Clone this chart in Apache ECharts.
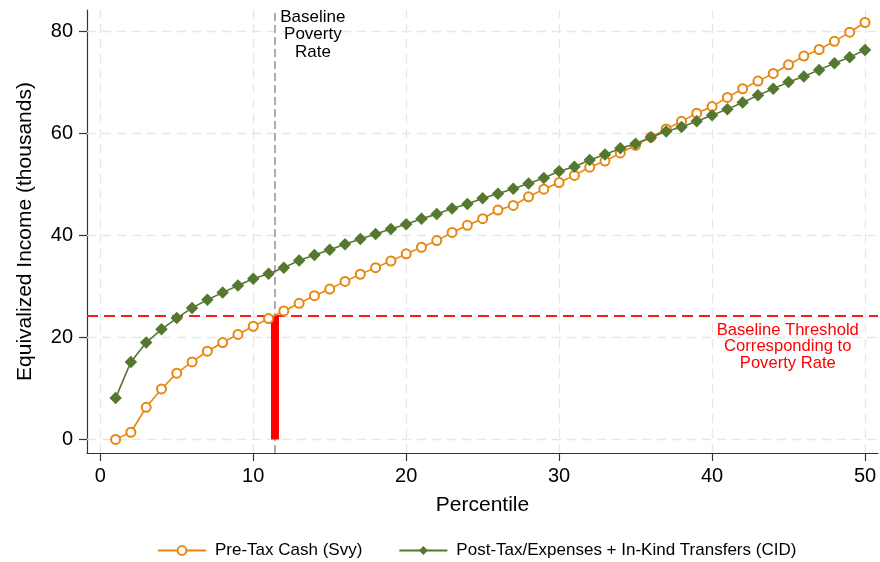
<!DOCTYPE html>
<html>
<head>
<meta charset="utf-8">
<script src="https://cdn.jsdelivr.net/npm/echarts@6/dist/echarts.min.js"></script>
<style>
  html, body { margin: 0; padding: 0; background: #fff; }
  #chart { width: 880px; height: 562px; }
</style>
</head>
<body>
<div id="chart"></div>
<script>
// Percentiles 1..50
const percentiles = [1,2,3,4,5,6,7,8,9,10,11,12,13,14,15,16,17,18,19,20,21,22,23,24,25,26,27,28,29,30,31,32,33,34,35,36,37,38,39,40,41,42,43,44,45,46,47,48,49,50];

// Equivalized income (thousands)
const preTaxCash = [0.0,1.4,6.3,9.9,13.0,15.2,17.3,19.0,20.6,22.2,23.7,25.2,26.7,28.2,29.5,31.0,32.4,33.7,35.0,36.4,37.7,39.0,40.6,42.0,43.3,45.0,45.9,47.6,49.1,50.4,51.8,53.4,54.6,56.2,57.7,59.3,60.9,62.4,64.0,65.3,67.1,68.8,70.3,71.8,73.5,75.2,76.5,78.1,79.9,81.8];
const postTaxInKind = [8.1,15.2,19.0,21.6,23.8,25.8,27.4,28.8,30.2,31.5,32.5,33.7,35.1,36.2,37.2,38.3,39.3,40.3,41.3,42.2,43.3,44.2,45.3,46.2,47.3,48.2,49.2,50.2,51.3,52.6,53.5,54.8,55.9,57.1,58.0,59.3,60.4,61.3,62.4,63.6,64.8,66.1,67.5,68.8,70.1,71.2,72.5,73.8,75.0,76.4];

// Baseline poverty rate (percentile) and the matching threshold (thousands)
const povertyRate = 11.42;
const povertyThreshold = 24.3;

// Axis ticks
const xTicks = [0, 10, 20, 30, 40, 50];
const yTicks = [0, 20, 40, 60, 80];

const seriesNames = ['Pre-Tax Cash (Svy)', 'Post-Tax/Expenses + In-Kind Transfers (CID)'];

const FONT = '"Liberation Sans", Arial, Helvetica, sans-serif';
const ORANGE = '#E8870F';
const GREEN = '#56772F';
const GRID_COLOR = '#e6e6e6';

const chart = echarts.init(document.getElementById('chart'), null, { renderer: 'canvas' });

const gridLineStyle = { color: GRID_COLOR, width: 1.3, type: [9, 6] };

const option = {
  backgroundColor: '#fff',
  animation: false,
  textStyle: { fontFamily: FONT },
  grid: { left: 87, right: 2, top: 10, bottom: 109, containLabel: false },
  xAxis: {
    type: 'value',
    min: -0.87,
    max: 50.85,
    name: 'Percentile',
    nameLocation: 'middle',
    nameGap: 42,
    nameTextStyle: { fontSize: 21, color: '#000', fontFamily: FONT },
    axisLine: { show: true, onZero: false, lineStyle: { color: '#333', width: 1.2 } },
    axisTick: { show: true, length: 8, customValues: xTicks, lineStyle: { color: '#333', width: 1.2 } },
    axisLabel: { customValues: xTicks, fontSize: 20, color: '#000', margin: 13, fontFamily: FONT },
    splitLine: { show: false }
  },
  yAxis: {
    type: 'value',
    min: -2.67,
    max: 84.25,
    name: 'Equivalized Income (thousands)',
    nameLocation: 'middle',
    nameGap: 51,
    nameTextStyle: { fontSize: 21, color: '#000', fontFamily: FONT },
    axisLine: { show: true, onZero: false, lineStyle: { color: '#333', width: 1.2 } },
    axisTick: { show: true, length: 8, customValues: yTicks, lineStyle: { color: '#333', width: 1.2 } },
    axisLabel: { customValues: yTicks, fontSize: 20, color: '#000', margin: 14, fontFamily: FONT },
    splitLine: { show: false }
  },
  legend: {
    left: 152,
    top: 537,
    itemGap: 36,
    itemWidth: 48,
    itemHeight: 11,
    textStyle: { fontSize: 17, color: '#000', fontFamily: FONT, padding: [0, 0, 0, 4] },
    data: seriesNames
  },
  series: [
    {
      // Light dashed gridlines at the tick positions
      type: 'line',
      data: [],
      silent: true,
      z: 1,
      markLine: {
        z: 1,
        silent: true,
        symbol: 'none',
        label: { show: false },
        lineStyle: gridLineStyle,
        data: xTicks.map(v => ({ xAxis: v })).concat(yTicks.map(v => ({ yAxis: v })))
      }
    },
    {
      // Reference lines and their notes
      type: 'line',
      data: [],
      silent: true,
      z: 2,
      markLine: {
        z: 2,
        silent: true,
        symbol: 'none',
        label: { show: false },
        data: [
          { xAxis: povertyRate, lineStyle: { color: '#9a9a9a', width: 1.6, type: [8, 4] } },
          { yAxis: povertyThreshold, lineStyle: { color: '#FF1A1A', width: 1.8, type: [11, 6] } }
        ]
      },
      markPoint: {
        z: 2,
        silent: true,
        symbol: 'circle',
        symbolSize: 0,
        data: [
          {
            coord: [13.9, 79.4],
            label: {
              show: true, position: 'inside', align: 'center', verticalAlign: 'middle',
              formatter: 'Baseline\nPoverty\nRate',
              fontSize: 17, lineHeight: 17.3, color: '#000', fontFamily: FONT
            }
          },
          {
            coord: [44.95, 18.2],
            label: {
              show: true, position: 'inside', align: 'center', verticalAlign: 'middle',
              formatter: 'Baseline Threshold\nCorresponding to\nPoverty Rate',
              fontSize: 16.6, lineHeight: 16.5, color: '#FF0000', fontFamily: FONT
            }
          }
        ]
      }
    },
    {
      // Vertical bar from zero up to the threshold at the poverty-rate percentile
      type: 'bar',
      data: [[povertyRate, povertyThreshold]],
      barWidth: 8,
      itemStyle: { color: '#FF0000' },
      silent: true,
      z: 4
    },
    {
      name: seriesNames[0],
      type: 'line',
      data: percentiles.map((p, i) => [p, preTaxCash[i]]),
      symbol: 'emptyCircle',
      symbolSize: 9,
      showAllSymbol: true,
      color: ORANGE,
      lineStyle: { color: ORANGE, width: 1.6 },
      itemStyle: { color: ORANGE, borderColor: ORANGE, borderWidth: 1.5 },
      z: 5
    },
    {
      name: seriesNames[1],
      type: 'line',
      data: percentiles.map((p, i) => [p, postTaxInKind[i]]),
      symbol: 'diamond',
      symbolSize: 12.5,
      showAllSymbol: true,
      color: GREEN,
      lineStyle: { color: GREEN, width: 1.6 },
      itemStyle: { color: GREEN },
      z: 6
    }
  ]
};

chart.setOption(option);
</script>
</body>
</html>
